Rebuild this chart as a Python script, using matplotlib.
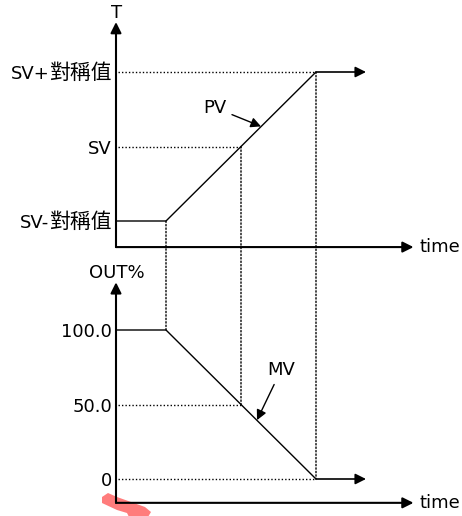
import matplotlib
matplotlib.use('Agg')
import matplotlib.pyplot as plt
from matplotlib.patches import ConnectionPatch, Polygon
from matplotlib.transforms import offset_copy

plt.rcParams['font.family'] = ['DejaVu Sans', 'Noto Sans CJK TC']

# time breakpoints (arbitrary units): start of ramp, middle, end of ramp, end of drawn curve
t_curve = [0, 1, 4, 5]
t_mid = 2.5
t_axis_end = 5.95

# upper panel: PV  (-1 = SV-對稱值, 0 = SV, 1 = SV+對稱值)
pv = [-1, -1, 1, 1]
pv_levels = [1, 0, -1]
pv_labels = [('SV+', '對稱值'), ('SV', ''), ('SV-', '對稱值')]

# lower panel: MV (OUT%)
mv = [100, 100, 0, 0]
mv_levels = [100.0, 50.0, 0]
mv_labels = [('100.0', ''), ('50.0', ''), ('0', '')]

W, H = 462, 516
fig = plt.figure(figsize=(W / 100, H / 100), dpi=100)
renderer = fig.canvas.get_renderer()

ax_top = fig.add_axes([0, 0, 1, 1])
ax_bot = fig.add_axes([0, 0, 1, 1])
for ax in (ax_top, ax_bot):
    ax.set_xlim(-116 / 50, (W - 116) / 50)
    ax.axis('off')
    ax.patch.set_alpha(0)
ax_top.set_ylim(-1 - 295 / 74.5, 1 + 72 / 74.5)
ax_bot.set_ylim(-37 / 1.49, 100 + 330 / 1.49)

fs = 13
fs_cjk = 15
lw_axis = 1.5
lw_curve = 1.0
dot = dict(color='k', lw=1.0, linestyle=(0, (1.0, 1.5)))
arr = dict(arrowstyle='-|>', color='k', lw=lw_axis, mutation_scale=16, shrinkA=0, shrinkB=0)


def level_label(ax, lv, latin, cjk):
    base = offset_copy(ax.transData, fig=fig, x=0, y=-7, units='dots')
    w = 0
    if cjk:
        t = ax.text(-0.08, lv, cjk, ha='right', va='baseline', fontsize=fs_cjk,
                    family='Noto Sans CJK TC', transform=base)
        w = t.get_window_extent(renderer).width
    ax.text(-0.08, lv, latin, ha='right', va='baseline', fontsize=fs,
            transform=offset_copy(ax.transData, fig=fig, x=-w, y=-7, units='dots'))


def draw_panel(ax, t, y, levels, labels, y_lo, y_hi, ylabel, curve_label, lab_xy, tip_xy):
    # axes with arrows
    ax.annotate('', xy=(0, y_hi), xytext=(0, y_lo), arrowprops=arr)
    ax.annotate('', xy=(t_axis_end, y_lo), xytext=(0, y_lo), arrowprops=arr)
    ax.text(0.02, y_hi, ylabel, ha='center', va='bottom', fontsize=fs)
    ax.text(t_axis_end + 0.12, y_lo, 'time', ha='left', va='center', fontsize=fs)
    # curve with arrow at the end
    ax.plot(t[:-1], y[:-1], color='k', lw=lw_curve, solid_capstyle='butt')
    ax.annotate('', xy=(t[-1], y[-1]), xytext=(t[-2], y[-2]),
                arrowprops=dict(arr, lw=1.2))
    # level labels
    for lv, (latin, cjk) in zip(levels, labels):
        level_label(ax, lv, latin, cjk)
    # pointer label
    ax.annotate(curve_label, xy=tip_xy, xytext=lab_xy, fontsize=fs,
                ha='center', va='center',
                arrowprops=dict(arrowstyle='-|>', color='k', lw=1.0,
                                mutation_scale=15, shrinkA=2, shrinkB=0))


draw_panel(ax_top, t_curve, pv, pv_levels, pv_labels, -1.35, 1.67, 'T', 'PV',
           (1.98, 0.52), (2.9, 0.27))
draw_panel(ax_bot, t_curve, mv, mv_levels, mv_labels, -16, 132, 'OUT%', 'MV',
           (3.3, 73), (2.82, 39.5))

# dotted guides: horizontal
ax_top.plot([0.04, t_curve[2]], [pv_levels[0]] * 2, **dot)
ax_top.plot([0.04, t_mid], [pv_levels[1]] * 2, **dot)
ax_bot.plot([0.04, t_mid], [mv_levels[1]] * 2, **dot)
ax_bot.plot([0.04, t_curve[2]], [mv_levels[2]] * 2, **dot)

# dotted guides: vertical, linking both panels
pv_at = [pv[1], 0, pv[2]]
mv_at = [mv[1], 50.0, mv[2]]
for tx, a, b in zip([t_curve[1], t_mid, t_curve[2]], pv_at, mv_at):
    con = ConnectionPatch(xyA=(tx, a), coordsA=ax_top.transData,
                          xyB=(tx, b), coordsB=ax_bot.transData, **dot)
    fig.add_artist(con)

# pink highlight stroke in the lower-left corner
smudge = [(102, 497), (108, 493), (117, 497), (145, 507), (151, 512),
          (148, 517), (129, 517), (127, 513), (117, 510), (102, 503)]
fig.add_artist(Polygon([(x / W, 1 - y / H) for x, y in smudge], closed=True,
                       transform=fig.transFigure, facecolor='#ff6e6e',
                       edgecolor='none', alpha=0.9, zorder=0))

fig.savefig('out.png', dpi=100, facecolor='white')
